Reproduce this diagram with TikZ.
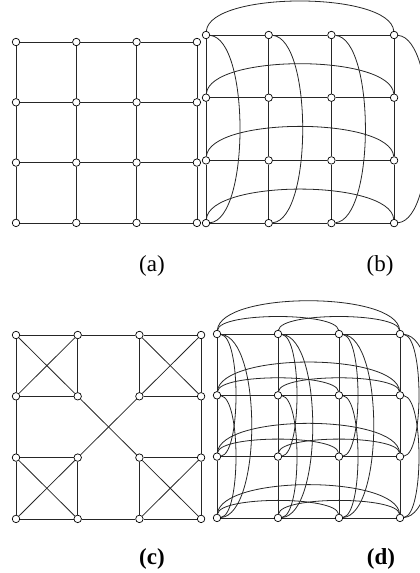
\documentclass[tikz,border=0pt]{standalone}
\usepackage{fontspec}
\setmainfont{Liberation Serif}
\usepackage{tikz}
\usetikzlibrary{positioning}

\begin{document}
\begin{tikzpicture}[
  x=1pt, y=-1pt,
  vtx/.style={circle, draw, fill=white, inner sep=0pt, minimum size=7.5pt, line width=0.7pt},
  edge/.style={draw=black!85, line width=0.8pt},
  lbl/.style={font=\fontsize{23}{27}\selectfont}
]
  \useasboundingbox (0,0) rectangle (420,573);

  % vertices of the four panels
  \foreach \i in {0,...,3}
    \foreach \j in {0,...,3} {
      \node[vtx] (a\i\j) at ({16+60.3*\i},{42+60.3*\j}) {};
      \node[vtx] (b\i\j) at ({206+62.7*\i},{35+62.7*\j}) {};
      \node[vtx] (c\i\j) at ({16+61.7*\i},{335+61.3*\j}) {};
      \node[vtx] (d\i\j) at ({217+61*\i},{334+61.3*\j}) {};
    }

  % plain grid in (a), (b) and (d)
  \foreach \p in {a,b,d}
    \foreach \i in {0,...,3}
      \foreach \j/\k in {0/1,1/2,2/3} {
        \draw[edge] (\p\i\j) -- (\p\i\k);
        \draw[edge] (\p\j\i) -- (\p\k\i);
      }

  % wrap-around arcs in (b)
  \foreach \i in {0,...,3} {
    \draw[edge] (b0\i) .. controls +(4,-44) and +(-4,-44) .. (b3\i);
    \draw[edge] (b\i0) .. controls +(44,4) and +(44,-4) .. (b\i3);
  }

  % (c)
  \foreach \i/\k in {0/1,2/3}
    \foreach \j/\l in {0/1,2/3} {
      \draw[edge] (c\i\j) -- (c\k\j);
      \draw[edge] (c\i\l) -- (c\k\l);
      \draw[edge] (c\i\j) -- (c\i\l);
      \draw[edge] (c\k\j) -- (c\k\l);
      \draw[edge] (c\i\j) -- (c\k\l);
      \draw[edge] (c\k\j) -- (c\i\l);
    }
  \draw[edge] (c10) -- (c20);
  \draw[edge] (c13) -- (c23);
  \draw[edge] (c01) -- (c02);
  \draw[edge] (c31) -- (c32);
  \draw[edge] (c11) -- (c22);
  \draw[edge] (c21) -- (c12);

  % extra arcs in (d)
  \foreach \i in {0,...,3} {
    \draw[edge] (d0\i) .. controls +(4,-43) and +(-4,-43) .. (d3\i);
    \draw[edge] (d0\i) .. controls +(3,-22) and +(-3,-22) .. (d2\i);
    \draw[edge] (d1\i) .. controls +(3,-22) and +(-3,-22) .. (d3\i);
    \draw[edge] (d\i0) .. controls +(45,4) and +(45,-4) .. (d\i3);
    \draw[edge] (d\i0) .. controls +(24,3) and +(24,-3) .. (d\i2);
    \draw[edge] (d\i1) .. controls +(24,3) and +(24,-3) .. (d\i3);
  }

  % captions
  \node[lbl] (capa) at (152,266) {(a)};
  \node[lbl] (capb) at (380,266) {(b)};
  \node[lbl] (capc) at (152,559) {\bfseries (c)};
  \node[lbl] (capd) at (381,559) {\bfseries (d)};
\end{tikzpicture}
\end{document}
